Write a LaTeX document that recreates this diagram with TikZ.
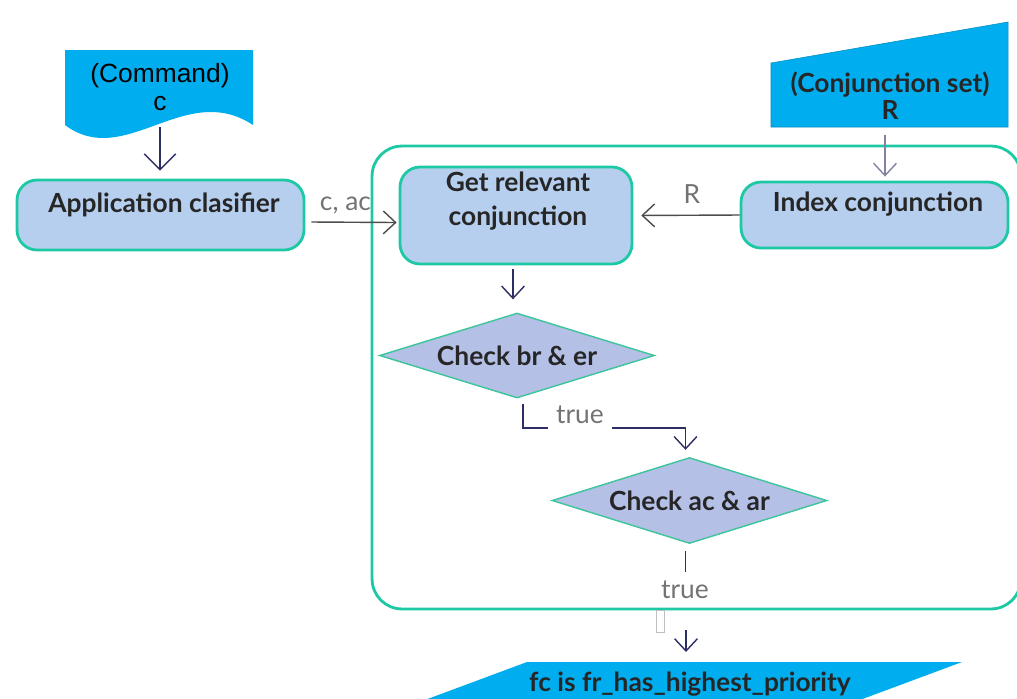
\documentclass[tikz,border=0pt]{standalone}
\usepackage{fontspec}
\setmainfont{Lato}
\newfontfamily\arialfont{Liberation Sans}
\usepackage{xcolor}
\usepackage{tikz}
\usetikzlibrary{calc}
\usetikzlibrary{shapes.geometric, positioning, arrows.meta}

\definecolor{inputcyan}{HTML}{00AEEF}
\definecolor{boxfill}{HTML}{B6CFEE}
\definecolor{checkfill}{HTML}{B4C0E6}
\definecolor{tealline}{HTML}{1DC9A4}
\definecolor{checkline}{HTML}{3CC59A}
\definecolor{navy}{HTML}{2E2E66}

\begin{document}
\begin{tikzpicture}[x=0.02cm,y=-0.02cm,-,
    main node/.style={rectangle,rounded corners=0.4cm,draw=tealline,line width=1.6pt,fill=boxfill,inner sep=0pt},
    check node/.style={diamond,aspect=3.2,draw=checkline,line width=0.8pt,fill=checkfill,inner sep=0pt,
                       font=\fontsize{15}{18}\selectfont\bfseries,text=black!85},
    box text/.style={font=\fontsize{15}{19.3}\selectfont\bfseries,text=black!85,align=center},
    edge label/.style={font=\fontsize{15}{18}\selectfont,text=black!55,inner sep=1pt},
    flow/.style={-{Straight Barb[length=7pt,width=13pt]},line width=0.8pt,draw=navy},
    flow gray/.style={flow,draw=black!70},
    line/.style={line width=0.8pt,draw=navy}]
  \useasboundingbox (0,0) rectangle (1017,698);
  \clip (0,0) rectangle (1017,698);
%inputs
  \path[fill=inputcyan] (65,50) -- (253,50) -- (253,125) .. controls (185,80) and (125,170) .. (65,125) -- cycle;
  \node[font=\arialfont\fontsize{15}{15.5}\selectfont,align=center] (1) at (160,87) {(Command)\\c};
  \path[fill=inputcyan,draw=inputcyan!80!black,line width=0.3pt] (771,63) -- (1008,22) -- (1008,127) -- (771,127) -- cycle;
  \node[box text,font=\fontsize{15}{15.5}\selectfont\bfseries] (3) at (890,96) {(Conjunction set)\\R};
%container
  \node[draw=tealline,line width=1.6pt,rounded corners=0.6cm,minimum width=12.98cm,minimum height=9.26cm] (Box1) at (696.5,377.5) {};
%processes
  \node[main node,minimum width=5.74cm,minimum height=1.4cm] (2) at (160.5,215) {};
  \node[box text] (2t) at (164,205) {Application clasifier};
  \node[main node,minimum width=4.64cm,minimum height=1.94cm] (4) at (516,215.5) {};
  \node[box text] (4t) at (518,201) {Get relevant\\conjunction};
  \node[main node,minimum width=5.34cm,minimum height=1.32cm] (5) at (874.5,215) {};
  \node[box text] (5t) at (878,204) {Index conjunction};
%checks
  \node[check node,minimum width=5.5cm,minimum height=1.7cm] (6) at (517,355.5) {Check br \& er};
  \node[check node,minimum width=5.5cm,minimum height=1.72cm] (7) at (689.5,500.5) {Check ac \& ar};
%output
  \path[fill=inputcyan] (527,662) -- (962,662) -- (806,720) -- (371,720) -- cycle;
  \node[box text] (8) at (690,684) {fc is fr\_has\_highest\_priority};

  \coordinate (1out) at (160,127);
  \coordinate (3out) at (885,135);
  \coordinate (6out) at ($(6.south)+(6,5)$);
  \coordinate (t1a) at (548,428);
  \coordinate (t1b) at (612,428);
  \coordinate (7out) at ($(7.south)+(-4,7)$);
  \coordinate (8in) at (686,630);

  \draw[flow,-{Straight Barb[length=9pt,width=18pt]},shorten >=4.5pt] (1out) -- (1out |- 2.north);
  \draw[flow gray] ($(2.east)+(6,7)$) -- ($(4.west)+(-2,7)$)
    node[edge label,pos=0.4,above=3pt] {c, ac};
  \draw[flow,draw=navy!60,shorten >=2.3pt] (3out) -- (3out |- 5.north);
  \draw[flow gray,shorten >=4.5pt] (5.west) -- (4.east)
    node[edge label,pos=0.45,above=5pt] {R};
  \draw[flow] ($(4.south)+(-3,4)$) -- ($(6.north)+(-4,-13)$);
  \draw[line] (6out) |- (t1a);
  \node[edge label] (t1) at (580,415) {true};
  \draw[flow] (t1b) -| ($(7.north)+(-4,-7)$);
  \draw[line] (7out) -- ++(0,21);
  \node[edge label] (t2) at (685,590) {true};
  \draw[draw=black!25,fill=white,line width=0.4pt] (656,610) rectangle (664,632);
  \draw[flow] (8in) -- ++(0,22);

\end{tikzpicture}
\end{document}
